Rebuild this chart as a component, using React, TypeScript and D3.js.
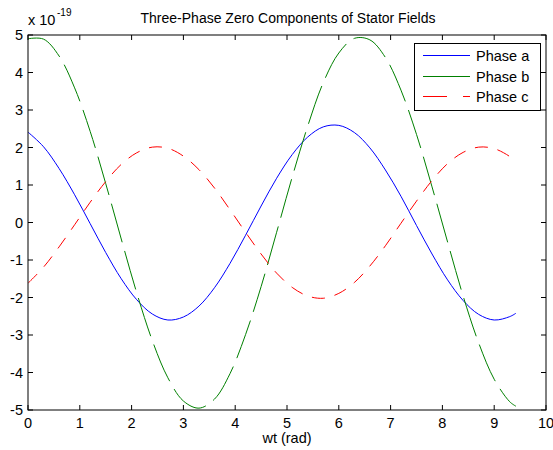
import React from "react";
import * as d3 from "d3";

const xs = [0, 0.3, 0.6, 0.9, 1.2, 1.5, 1.8, 2.1, 2.4, 2.7, 3.0, 3.3, 3.6, 3.9, 4.2, 4.5, 4.8, 5.1, 5.4, 5.7, 6.0, 6.3, 6.6, 6.9, 7.2, 7.5, 7.8, 8.1, 8.4, 8.7, 9.0, 9.3, 9.42];
const phaseA = [2.41, 2.02, 1.44, 0.74, -0.03, -0.8, -1.5, -2.06, -2.44, -2.6, -2.52, -2.23, -1.74, -1.09, -0.34, 0.44, 1.18, 1.81, 2.28, 2.55, 2.59, 2.4, 1.99, 1.4, 0.7, -0.08, -0.84, -1.53, -2.08, -2.45, -2.6, -2.51, -2.42];
const phaseB = [4.9, 4.89, 4.44, 3.59, 2.43, 1.04, -0.44, -1.88, -3.15, -4.14, -4.76, -4.95, -4.71, -4.03, -2.99, -1.71, -0.26, 1.21, 2.57, 3.73, 4.52, 4.91, 4.87, 4.4, 3.53, 2.35, 0.95, -0.52, -1.96, -3.21, -4.18, -4.78, -4.9];
const phaseC = [-1.62, -1.19, -0.65, -0.06, 0.54, 1.09, 1.55, 1.86, 2.01, 1.98, 1.77, 1.41, 0.92, 0.34, -0.26, -0.84, -1.35, -1.73, -1.96, -2.02, -1.89, -1.6, -1.16, -0.62, -0.02, 0.57, 1.12, 1.57, 1.87, 2.01, 1.97, 1.76, 1.62];
const xTicks = [0, 1, 2, 3, 4, 5, 6, 7, 8, 9, 10];
const yTicks = [-5, -4, -3, -2, -1, 0, 1, 2, 3, 4, 5];
const seriesNames = ["Phase a", "Phase b", "Phase c"];

const W = 553, H = 450;
const L = 28, R = 546, T = 35, B = 410;
const font = "'Liberation Sans', Arial, Helvetica, sans-serif";

export default function App() {
  const x = d3.scaleLinear().domain([0, 10]).range([L, R]);
  const y = d3.scaleLinear().domain([-5, 5]).range([B, T]);
  const line = d3.line<number>().x((_, i) => x(xs[i])).y((d) => y(d)).curve(d3.curveCatmullRom);
  const series = [
    { name: seriesNames[0], data: phaseA, color: "#0000ff", dash: "none" },
    { name: seriesNames[1], data: phaseB, color: "#008000", dash: "40,9" },
    { name: seriesNames[2], data: phaseC, color: "#ff0000", dash: "13,10" },
  ];
  const legendDash = ["none", "none", "24,16"];
  const tl = 5;
  const fs = 14.5;
  return (
    <svg width={W} height={H} style={{ position: "absolute", left: 0, top: 0, background: "#fff" }} fontFamily={font}>
      <rect x={0} y={0} width={W} height={H} fill="#fff" />
      <defs>
        <clipPath id="plotclip">
          <rect x={L} y={T} width={R - L} height={B - T} />
        </clipPath>
      </defs>
      <g clipPath="url(#plotclip)">
        {series.map((s) => (
          <path key={s.name} d={line(s.data) || ""} fill="none" stroke={s.color} strokeWidth={1} strokeDasharray={s.dash} />
        ))}
      </g>
      <rect x={L} y={T} width={R - L} height={B - T} fill="none" stroke="#000" strokeWidth={1} />
      {xTicks.map((t) => (
        <g key={"x" + t}>
          <line x1={x(t)} x2={x(t)} y1={B} y2={B - tl} stroke="#000" />
          <line x1={x(t)} x2={x(t)} y1={T} y2={T + tl} stroke="#000" />
          <text x={x(t)} y={B + 18} fontSize={fs} textAnchor="middle" fill="#000">{t}</text>
        </g>
      ))}
      {yTicks.map((t) => (
        <g key={"y" + t}>
          <line x1={L} x2={L + tl} y1={y(t)} y2={y(t)} stroke="#000" />
          <line x1={R} x2={R - tl} y1={y(t)} y2={y(t)} stroke="#000" />
          <text x={L - 5} y={y(t) + 5} fontSize={fs} textAnchor="end" fill="#000">{t}</text>
        </g>
      ))}
      <text x={28} y={25} fontSize={fs} fill="#000">x 10</text>
      <text x={57} y={16} fontSize={10} fill="#000">-19</text>
      <text x={288} y={23} fontSize={14} textAnchor="middle" fill="#000">Three-Phase Zero Components of Stator Fields</text>
      <text x={(L + R) / 2} y={443} fontSize={fs} textAnchor="middle" fill="#000">wt (rad)</text>
      <g>
        <rect x={414.5} y={43.5} width={126} height={67} fill="#fff" stroke="#000" strokeWidth={1} />
        {series.map((s, i) => {
          const ly = Math.round(55 + i * 20.5) + 0.5;
          return (
            <g key={"lg" + i}>
              <line x1={423} x2={470} y1={ly} y2={ly} stroke={s.color} strokeDasharray={legendDash[i]} />
              <text x={476} y={ly + 5} fontSize={fs} fill="#000">{s.name}</text>
            </g>
          );
        })}
      </g>
    </svg>
  );
}
